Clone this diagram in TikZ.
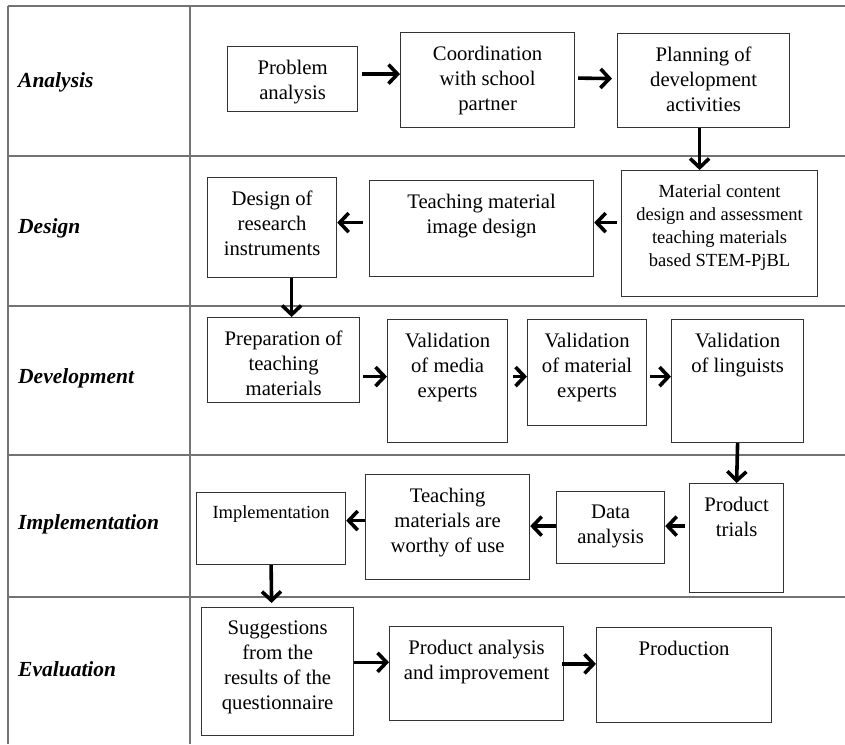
\documentclass[tikz,border=0pt]{standalone}
\usepackage{fontspec}
\setmainfont{Liberation Serif}
\usetikzlibrary{arrows.meta}

\begin{document}
\begin{tikzpicture}[x=1pt, y=-1pt,
     grid/.style={draw=black!55, line width=1.3pt},
     stage/.style={draw=black!80, line width=1.2pt, anchor=north west, inner sep=0pt},
     txt/.style={anchor=north, yshift=-14pt, align=center, inner sep=0pt, font=\fontsize{20.7}{25}\selectfont},
     smalltxt/.style={txt, font=\fontsize{18.5}{23}\selectfont},
     phase/.style={anchor=west, inner sep=0pt, font=\fontsize{21.5}{25}\selectfont\bfseries\itshape},
     flow/.style={line width=3.6pt, -{Straight Barb[length=9pt,width=19pt]}}]
               \useasboundingbox (0,0) rectangle (845,744);
               % table
               \draw[grid] (8,6)--(845,6);
               \draw[grid] (8,156)--(845,156);
               \draw[grid] (8,306)--(845,306);
               \draw[grid] (8,455)--(845,455);
               \draw[grid] (8,597)--(845,597);
               \draw[grid] (8,6)--(8,744);
               \draw[grid] (190,6)--(190,744);
               \node[phase] (lblAna) at (18,82) {Analysis};
               \node[phase] (lblDes) at (18,228) {Design};
               \node[phase] (lblDev) at (18,378) {Development};
               \node[phase] (lblImp) at (18,524) {Implementation};
               \node[phase] (lblEva) at (18,669) {Evaluation};
               % analysis
               \node[stage, minimum width=130pt, minimum height=65pt, label={[txt]north:Problem\\analysis}] (prob) at (227,46) {};
               \node[stage, minimum width=174pt, minimum height=95pt, label={[txt]north:Coordination\\with school\\partner}] (coord) at (400,32) {};
               \node[stage, minimum width=172pt, minimum height=94pt, label={[txt]north:Planning of\\development\\activities}] (plan) at (617,33) {};
               % design
               \node[stage, minimum width=129pt, minimum height=100pt, label={[txt]north:Design of\\research\\instruments}] (resin) at (207,177) {};
               \node[stage, minimum width=224pt, minimum height=96pt, label={[txt]north:Teaching material\\image design}] (img) at (369,180) {};
               \node[stage, minimum width=196pt, minimum height=126pt, label={[smalltxt]north:Material content\\design and assessment\\teaching materials\\based STEM-PjBL}] (mat) at (621,170) {};
               % development
               \node[stage, minimum width=152pt, minimum height=85pt, label={[txt]north:Preparation of\\teaching\\materials}] (prep) at (207,317) {};
               \node[stage, minimum width=120pt, minimum height=123pt, label={[txt]north:Validation\\of media\\experts}] (media) at (387,319) {};
               \node[stage, minimum width=119pt, minimum height=106pt, label={[txt]north:Validation\\of material\\experts}] (mexp) at (527,319) {};
               \node[stage, minimum width=132pt, minimum height=123pt, label={[txt]north:Validation\\of linguists}] (ling) at (671,319) {};
               % implementation
               \node[stage, minimum width=149pt, minimum height=72pt, label={[smalltxt, yshift=1pt]north:Implementation}] (impl) at (196,492) {};
               \node[stage, minimum width=164pt, minimum height=105pt, label={[txt]north:Teaching\\materials are\\worthy of use}] (worthy) at (365,474) {};
               \node[stage, minimum width=108pt, minimum height=72pt, label={[txt]north:Data\\analysis}] (data) at (556,491) {};
               \node[stage, minimum width=94pt, minimum height=109pt, label={[txt]north:Product\\trials}] (trial) at (689,483) {};
               % evaluation
               \node[stage, minimum width=152pt, minimum height=128pt, label={[txt]north:Suggestions\\from the\\results of the\\questionnaire}] (sugg) at (201,607) {};
               \node[stage, minimum width=174pt, minimum height=94pt, label={[txt]north:Product analysis\\and improvement}] (panal) at (389,626) {};
               \node[stage, minimum width=175pt, minimum height=95pt, label={[txt]north:Production}] (prodn) at (596,627) {};
               % arrows
               \draw[flow] ([xshift=4pt,yshift=5pt]prob.east) -- ([yshift=6pt]coord.west);
               \draw[flow] ([xshift=3pt,yshift=2pt]coord.east) -- ([xshift=-5pt,yshift=2pt]plan.west);
               \draw[flow] ([xshift=-4pt]plan.south) -- ([xshift=-20pt]mat.north);
               \draw[flow] ([xshift=-4pt,yshift=11pt]mat.west) -- ([yshift=6pt]img.east);
               \draw[flow] ([xshift=-6pt,yshift=6pt]img.west) -- ([yshift=5pt]resin.east);
               \draw[flow] ([xshift=19.5pt]resin.south) -- ([xshift=8pt]prep.north);
               \draw[flow] ([xshift=3pt,yshift=-16.5pt]prep.east) -- ([yshift=4.5pt]media.west);
               \draw[flow] ([xshift=5pt,yshift=4.5pt]media.east) -- ([yshift=-4pt]mexp.west);
               \draw[flow] ([xshift=3pt,yshift=-4pt]mexp.east) -- ([yshift=4.5pt]ling.west);
               \draw[flow] (ling.south) -- (trial.north);
               \draw[flow] ([xshift=-4pt,yshift=12pt]trial.west) -- ([yshift=1.5pt]data.east);
               \draw[flow] ([yshift=1.5pt]data.west) -- ([yshift=1pt]worthy.east);
               \draw[flow] ([yshift=6.5pt]worthy.west) -- ([yshift=8pt]impl.east);
               \draw[flow] (impl.south) -- ([xshift=-6pt,yshift=4pt]sugg.north);
               \draw[flow] ([yshift=9.3pt]sugg.east) -- ([yshift=11.3pt]panal.west);
               \draw[flow] ([xshift=-2.6pt,yshift=9.7pt]panal.east) -- ([yshift=11.2pt]prodn.west);
          \end{tikzpicture}
\end{document}
